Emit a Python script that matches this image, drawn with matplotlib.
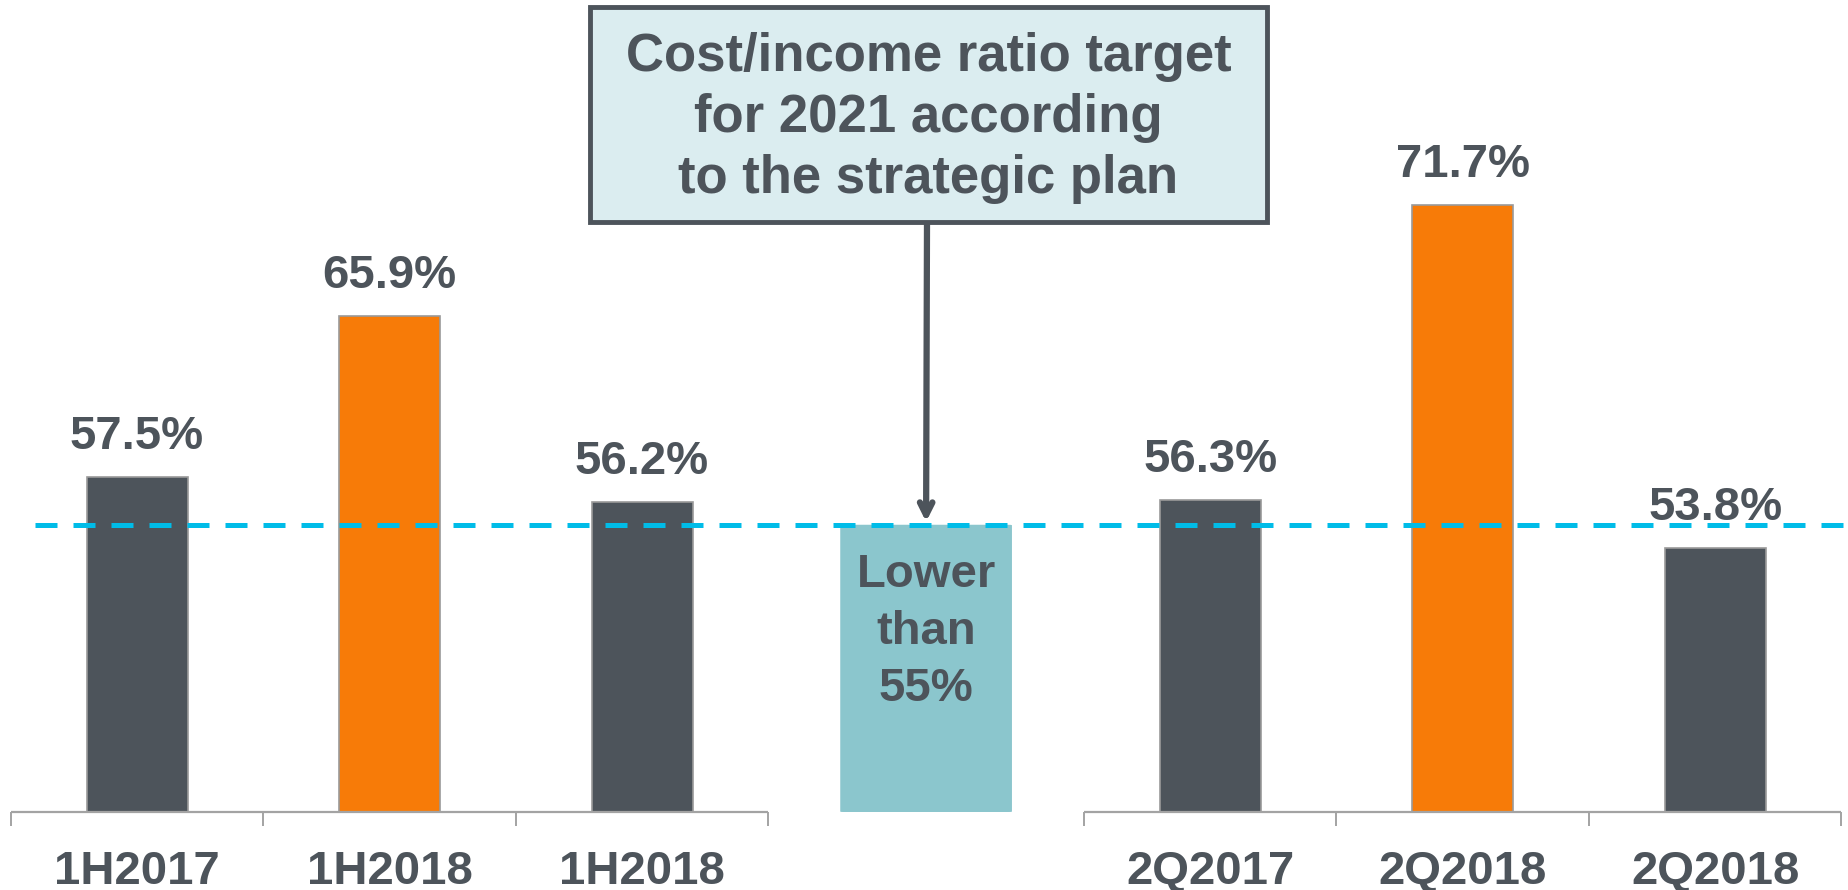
import matplotlib.pyplot as plt
from matplotlib.patches import Rectangle, FancyBboxPatch

plt.rcParams['font.family'] = ['Liberation Sans', 'DejaVu Sans']
plt.rcParams['font.weight'] = 'bold'

# data
half_labels = ['1H2017', '1H2018', '1H2018']
half_values = [57.5, 65.9, 56.2]
quarter_labels = ['2Q2017', '2Q2018', '2Q2018']
quarter_values = [56.3, 71.7, 53.8]
target_value = 55.0
target_text = 'Lower\nthan\n55%'
box_text = 'Cost/income ratio target\nfor 2021 according\nto the strategic plan'

dark = '#4d545b'
orange = '#f77b08'
teal = '#8bc6cd'
cyan = '#00bce8'
grey = '#a3a3a3'
colors = [dark, orange, dark]

half_x = [0, 1, 2]
mid_x = 3.125
quarter_x = [4.25, 5.25, 6.25]

fig = plt.figure(figsize=(18.48, 8.9), dpi=100)
ax = fig.add_axes([0, 0.0876, 1, 0.9124])
ax.set_xlim(-0.5426, 6.776)
ax.set_ylim(40, 82.4)
for s in ax.spines.values():
    s.set_visible(False)
ax.set_yticks([])

for xs, vals in [(half_x, half_values), (quarter_x, quarter_values)]:
    ax.bar(xs, vals, width=0.4, color=colors, edgecolor='#9a9a9a', linewidth=1.2)
    for x, v in zip(xs, vals):
        ax.annotate(f'{v:.1f}%', (x, v), xytext=(0, 20), textcoords='offset points',
                    ha='center', va='baseline', fontsize=34, color=dark, fontweight='bold')
    ax.hlines(40, xs[0] - 0.5, xs[-1] + 0.5, color=grey, lw=1.6, clip_on=False, zorder=3)

# target box
mid = FancyBboxPatch((mid_x - 0.34, 40), 0.68, target_value - 40,
                     boxstyle='round,pad=0,rounding_size=0.02', mutation_aspect=1,
                     facecolor=teal, edgecolor='none', zorder=1)
ax.add_patch(mid)
ax.text(mid_x, 49.4, target_text, ha='center', va='center', fontsize=34,
        color=dark, fontweight='bold', linespacing=1.38)

ax.axhline(target_value, xmin=35 / 1848, xmax=1, color=cyan, lw=3.6,
           dashes=(4.4, 3.2), zorder=4)

# x axis ticks and labels
ax.set_xticks(half_x + quarter_x)
ax.set_xticklabels(half_labels + quarter_labels, fontsize=34, color=dark, fontweight='bold')
ax.tick_params(axis='x', which='major', length=0, pad=27)
dividers = [x - 0.5 for x in half_x] + [half_x[-1] + 0.5] + \
           [x - 0.5 for x in quarter_x] + [quarter_x[-1] + 0.5]
ax.set_xticks(dividers, minor=True)
ax.tick_params(axis='x', which='minor', length=10, width=1.4, color=grey)

# callout box with arrow
fig.patches.append(Rectangle((590 / 1848, 1 - 222 / 890), 677 / 1848, 215 / 890,
                             transform=fig.transFigure, facecolor='#dbedf0',
                             edgecolor=dark, linewidth=3.5, zorder=5))
fig.text(928.5 / 1848, 1 - 118 / 890, box_text, ha='center', va='center',
         fontsize=38, color=dark, fontweight='bold', linespacing=1.27, zorder=6)
ax.annotate('', xy=(mid_x, target_value + 0.15), xycoords='data',
            xytext=(927 / 1848, 1 - 222 / 890), textcoords='figure fraction',
            arrowprops=dict(arrowstyle='->,head_length=0.9,head_width=0.45',
                            color=dark, lw=4.5, shrinkA=0, shrinkB=0), zorder=6)

fig.savefig('out.png', dpi=100)
